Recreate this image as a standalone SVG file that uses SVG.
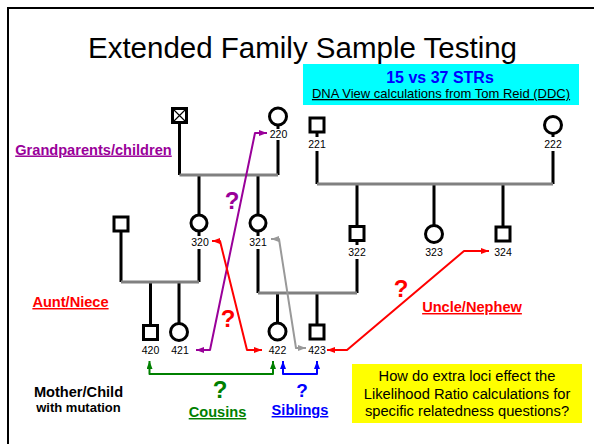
<svg xmlns="http://www.w3.org/2000/svg" width="594" height="444" viewBox="0 0 594 444">
  <style>
    text { font-family: "Liberation Sans", Arial, sans-serif; }
    .shape { fill: #ffffff; stroke: #000000; stroke-width: 3; }
    .line { stroke: #000000; stroke-width: 3; fill: none; }
    .mate { stroke: #808080; stroke-width: 3; fill: none; }
    .id { font-size: 10.5px; fill: #000000; text-anchor: middle; }
    .lbl { font-size: 14.6px; font-weight: bold; text-anchor: middle; text-decoration: underline; }
    .q { font-weight: bold; text-anchor: middle; }
    .link { fill: none; stroke-width: 2; stroke-linejoin: round; }
  </style>
  <defs>
    <marker id="ah-purple" viewBox="0 0 8 6" refX="8" refY="3" markerWidth="8" markerHeight="6" markerUnits="userSpaceOnUse" orient="auto-start-reverse"><path d="M0,0 L8,3 L0,6 z" fill="#990099"/></marker>
    <marker id="ah-red" viewBox="0 0 8 6" refX="8" refY="3" markerWidth="8" markerHeight="6" markerUnits="userSpaceOnUse" orient="auto-start-reverse"><path d="M0,0 L8,3 L0,6 z" fill="#ff0000"/></marker>
    <marker id="ah-gray" viewBox="0 0 8 6" refX="8" refY="3" markerWidth="8" markerHeight="6" markerUnits="userSpaceOnUse" orient="auto-start-reverse"><path d="M0,0 L8,3 L0,6 z" fill="#999999"/></marker>
    <marker id="ah-green" viewBox="0 0 8 6" refX="8" refY="3" markerWidth="8" markerHeight="6" markerUnits="userSpaceOnUse" orient="auto-start-reverse"><path d="M0,0 L8,3 L0,6 z" fill="#008000"/></marker>
    <marker id="ah-blue" viewBox="0 0 8 6" refX="8" refY="3" markerWidth="8" markerHeight="6" markerUnits="userSpaceOnUse" orient="auto-start-reverse"><path d="M0,0 L8,3 L0,6 z" fill="#0000ff"/></marker>
  </defs>

  <rect width="594" height="444" fill="#ffffff"/>
  <!-- slide frame -->
  <path d="M8,444 L8,8 L594,8" fill="none" stroke="#000000" stroke-width="2"/>

  <text x="302.5" y="58" font-size="29.5" text-anchor="middle" fill="#000000">Extended Family Sample Testing</text>

  <!-- STR banner -->
  <g id="banner">
    <rect x="303" y="64" width="276" height="41" fill="#00ffff"/>
    <text x="440" y="83" font-size="16" font-weight="bold" text-anchor="middle" fill="#0000ff">15 vs 37 STRs</text>
    <text x="441" y="98" font-size="13" text-anchor="middle" fill="#000000" text-decoration="underline">DNA View calculations from Tom Reid (DDC)</text>
  </g>

  <!-- pedigree lines -->
  <g id="pedigree-lines">
    <path class="line" d="M179.5,124 V175 M278,125 V129 M278,140 V175 M199,175 V215 M258,175 V215"/>
    <path class="mate" d="M179.5,175 H278"/>
    <path class="line" d="M317,132 V137 M317,151 V184 M553,133 V137 M553,151 V184 M357,184 V226.5 M434,184 V225.5 M503,184 V227"/>
    <path class="mate" d="M317,184 H553"/>
    <path class="line" d="M121,231 V282 M199,231 V236 M199,249 V282 M150.5,282 V325.5 M179,282 V323.5"/>
    <path class="mate" d="M121,282 H199"/>
    <path class="line" d="M258,231 V236 M258,249 V293 M357,241 V245 M357,259 V293 M277.5,293 V323 M317,293 V325"/>
    <path class="mate" d="M258,293 H357"/>
  </g>

  <!-- individuals -->
  <g id="gf">
    <rect class="shape" x="172.5" y="108.5" width="14" height="14"/>
    <path d="M172.5,108.5 L186.5,122.5 M186.5,108.5 L172.5,122.5" stroke="#000000" stroke-width="1.2"/>
  </g>
  <g id="n220"><circle class="shape" cx="278" cy="116.5" r="8.5"/><text class="id" x="278.5" y="138">220</text></g>
  <g id="n221"><rect class="shape" x="310" y="118" width="14" height="14"/><text class="id" x="317" y="148">221</text></g>
  <g id="n222"><circle class="shape" cx="553" cy="125" r="8.5"/><text class="id" x="553" y="148">222</text></g>
  <g id="spouse320"><rect class="shape" x="114" y="217" width="14" height="14"/></g>
  <g id="n320"><circle class="shape" cx="199" cy="223" r="8"/><text class="id" x="200" y="246">320</text></g>
  <g id="n321"><circle class="shape" cx="258" cy="223" r="8"/><text class="id" x="258" y="246">321</text></g>
  <g id="n322"><rect class="shape" x="350" y="226.5" width="14" height="14"/><text class="id" x="357" y="256">322</text></g>
  <g id="n323"><circle class="shape" cx="434" cy="234" r="8.5"/><text class="id" x="434" y="256">323</text></g>
  <g id="n324"><rect class="shape" x="496" y="227" width="14" height="14"/><text class="id" x="503" y="256">324</text></g>
  <g id="n420"><rect class="shape" x="143.5" y="325.5" width="14" height="14"/><text class="id" x="150.5" y="354">420</text></g>
  <g id="n421"><circle class="shape" cx="179" cy="332" r="8.5"/><text class="id" x="180" y="354">421</text></g>
  <g id="n422"><circle class="shape" cx="277.5" cy="331.5" r="8.5"/><text class="id" x="277.5" y="354">422</text></g>
  <g id="n423"><rect class="shape" x="310" y="325" width="14" height="14"/><text class="id" x="317" y="354">423</text></g>

  <!-- relationship comparisons -->
  <g id="connectors">
    <path class="link" stroke="#990099" d="M196,350 L210,350 L255,133 L267,133" marker-start="url(#ah-purple)" marker-end="url(#ah-purple)"/>
    <path class="link" stroke="#ff0000" d="M212,241 L220,241 L247,350 L262,350" marker-start="url(#ah-red)" marker-end="url(#ah-red)"/>
    <path class="link" stroke="#999999" d="M271,239 L279,239 L296,348 L306,348" marker-start="url(#ah-gray)" marker-end="url(#ah-gray)"/>
    <path class="link" stroke="#ff0000" d="M327,350 L347,350 L464,251 L489,251" marker-start="url(#ah-red)" marker-end="url(#ah-red)"/>
    <path class="link" stroke="#008000" d="M149.5,361 L149.5,374 L273,374 L273,361" marker-start="url(#ah-green)" marker-end="url(#ah-green)"/>
    <path class="link" stroke="#0000ff" d="M283,361 L283,374 L317,374 L317,361" marker-start="url(#ah-blue)" marker-end="url(#ah-blue)"/>
  </g>

  <!-- question marks and relationship labels -->
  <text class="q" x="232" y="209" font-size="24" fill="#990099">?</text>
  <text class="q" x="228" y="327" font-size="24" fill="#ff0000">?</text>
  <text class="q" x="401" y="297" font-size="24" fill="#ff0000">?</text>
  <text class="q" x="220" y="398" font-size="24" fill="#008000">?</text>
  <text class="q" x="302" y="397" font-size="19" fill="#0000ff">?</text>

  <text class="lbl" x="93.5" y="154.5" fill="#990099">Grandparents/children</text>
  <text class="lbl" x="70.5" y="307" fill="#ff0000">Aunt/Niece</text>
  <text class="lbl" x="472" y="312" fill="#ff0000">Uncle/Nephew</text>
  <text class="lbl" x="217.5" y="417" fill="#008000">Cousins</text>
  <text class="lbl" x="300" y="415" fill="#0000ff">Siblings</text>

  <text x="78.5" y="397" font-size="14.6" font-weight="bold" text-anchor="middle" fill="#000000">Mother/Child</text>
  <text x="78.5" y="412" font-size="13" font-weight="bold" text-anchor="middle" fill="#000000">with mutation</text>

  <g id="question-box">
    <rect x="352" y="364" width="230" height="59" fill="#ffff00"/>
    <text x="467" y="381" font-size="14.7" text-anchor="middle" fill="#000000">How do extra loci effect the</text>
    <text x="467" y="398.5" font-size="14.7" text-anchor="middle" fill="#000000">Likelihood Ratio calculations for</text>
    <text x="467" y="416" font-size="14.7" text-anchor="middle" fill="#000000">specific relatedness questions?</text>
  </g>
</svg>
